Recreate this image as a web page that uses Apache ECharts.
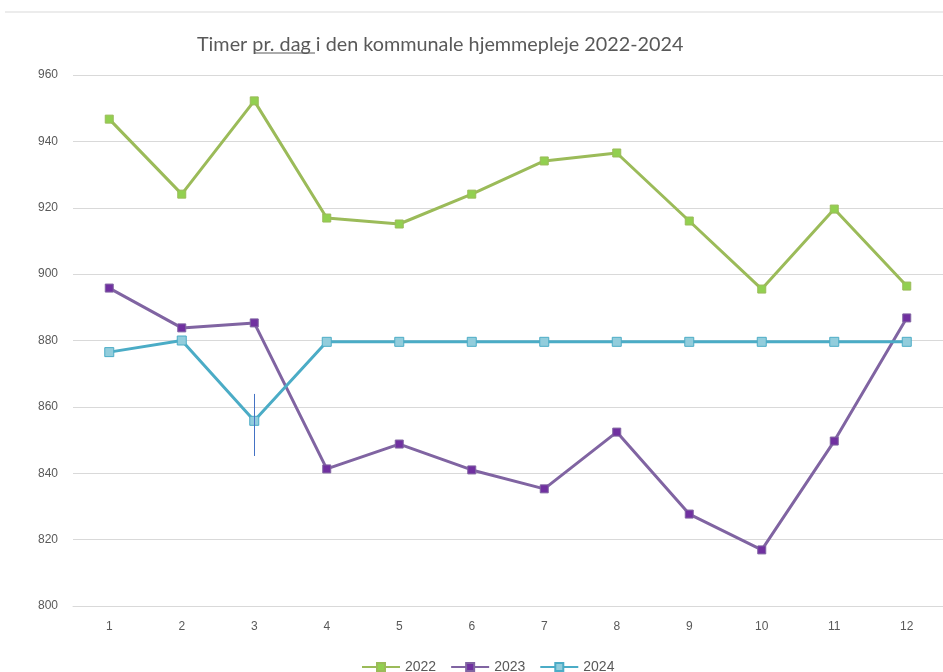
<!DOCTYPE html>
<html>
<head>
<meta charset="utf-8">
<script src="https://cdn.jsdelivr.net/npm/echarts@6/dist/echarts.min.js"></script>
<style>
  html, body { margin: 0; padding: 0; background: #fff; }
  #chart { width: 943px; height: 672px; }
</style>
</head>
<body>
<div id="chart"></div>
<script>
var months = ['1', '2', '3', '4', '5', '6', '7', '8', '9', '10', '11', '12'];
var data2022 = [946.7, 924.1, 952.2, 916.9, 915.1, 924.1, 934.1, 936.5, 916.0, 895.5, 919.6, 896.4];
var data2023 = [895.8, 883.8, 885.3, 841.3, 848.8, 841.0, 835.3, 852.4, 827.7, 816.9, 849.7, 886.8];
var data2024 = [876.5, 880.0, 855.8, 879.6, 879.6, 879.6, 879.6, 879.6, 879.6, 879.6, 879.6, 879.6];
// fejlstreg ved maaned 3 (2024)
var errorBar = { month: '3', low: 845.2, high: 863.9 };

var myChart = echarts.init(document.getElementById('chart'));
var labelColor = '#595959';

myChart.setOption({
  backgroundColor: '#fff',
  animation: false,
  title: {
    text: 'Timer pr. dag i den kommunale hjemmepleje 2022-2024',
    left: 192,
    top: 30,
    textStyle: {
      color: labelColor,
      fontSize: 19.8,
      fontWeight: 'normal',
      fontFamily: 'Lato'
    }
  },
  legend: {
    top: 655,
    left: 356,
    itemWidth: 38,
    itemHeight: 10,
    itemGap: 14,
    textStyle: { color: labelColor, fontSize: 14, fontFamily: 'Liberation Sans' },
    data: ['2022', '2023', '2024']
  },
  grid: { left: 73, right: -2, top: 75, bottom: 66 },
  xAxis: {
    type: 'category',
    data: months,
    axisLine: { lineStyle: { color: '#D9D9D9' } },
    axisTick: { show: false },
    axisLabel: { color: labelColor, fontSize: 12, margin: 15, fontFamily: 'Liberation Sans' }
  },
  yAxis: {
    type: 'value',
    min: 800,
    max: 960,
    interval: 20,
    axisLine: { show: false },
    axisTick: { show: false },
    axisLabel: { color: labelColor, fontSize: 12, margin: 15, fontFamily: 'Liberation Sans' },
    splitLine: { lineStyle: { color: '#D9D9D9' } }
  },
  graphic: [
    { type: 'line', shape: { x1: 5, y1: 12, x2: 943, y2: 12 }, style: { stroke: '#D9D9D9', lineWidth: 1 } },
    { type: 'line', shape: { x1: 254, y1: 53, x2: 315, y2: 53 }, style: { stroke: labelColor, lineWidth: 1 } }
  ],
  series: [
    {
      name: '2022',
      type: 'line',
      data: data2022,
      symbol: 'rect',
      symbolSize: 8,
      lineStyle: { color: '#9BBB59', width: 3 },
      itemStyle: { color: '#92D050', borderColor: '#9BBB59', borderWidth: 1 }
    },
    {
      name: '2023',
      type: 'line',
      data: data2023,
      symbol: 'rect',
      symbolSize: 8,
      lineStyle: { color: '#8064A2', width: 3 },
      itemStyle: { color: '#7030A0', borderColor: '#8064A2', borderWidth: 1 }
    },
    {
      name: '2024',
      type: 'line',
      data: data2024,
      symbol: 'rect',
      symbolSize: 9,
      lineStyle: { color: '#4BACC6', width: 3 },
      itemStyle: { color: '#92CDDC', borderColor: '#4BACC6', borderWidth: 1 },
      markLine: {
        silent: true,
        symbol: 'none',
        label: { show: false },
        lineStyle: { color: '#4472C4', width: 1, type: 'solid' },
        data: [[
          { coord: [errorBar.month, errorBar.high] },
          { coord: [errorBar.month, errorBar.low] }
        ]]
      }
    }
  ]
});
</script>
</body>
</html>
